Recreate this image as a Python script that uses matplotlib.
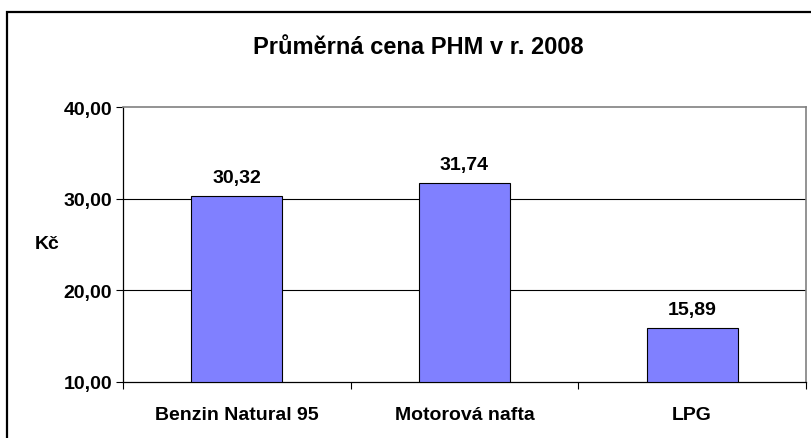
import matplotlib
matplotlib.use("Agg")
import matplotlib.pyplot as plt
from matplotlib.patches import Rectangle

categories = ["Benzin Natural 95", "Motorová nafta", "LPG"]
values = [30.32, 31.74, 15.89]
yticks = [10, 20, 30, 40]
title = "Průměrná cena PHM v r. 2008"
ylabel = "Kč"

plt.rcParams['font.family'] = ['Liberation Sans', 'DejaVu Sans']
W, H = 812, 439
fig = plt.figure(figsize=(W / 100, H / 100), dpi=100)

# outer frame
fig.patches.append(Rectangle((7 / W, -20 / H), (W + 20) / W, (H - 13 + 20) / H,
                             transform=fig.transFigure, fill=False,
                             edgecolor='black', linewidth=1.6, clip_on=True))

L, R, T, B = 123, 806, 108, 383
ax = fig.add_axes([L / W, 1 - B / H, (R - L) / W, (B - T) / H])

FS = 14
x = list(range(len(categories)))
ax.bar(x, [v - 10 for v in values], bottom=10, width=0.4, color='#8080FF',
       edgecolor='black', linewidth=0.8, zorder=3)
for xi, v in zip(x, values):
    ax.annotate(f"{v:.2f}".replace('.', ','), (xi, v), xytext=(0, 7),
                textcoords='offset points', ha='center', va='bottom',
                fontsize=FS, fontweight='bold')

ax.set_xlim(-0.5, len(categories) - 0.5)
ax.set_ylim(10, 40)
ax.set_yticks(yticks)
ax.set_yticklabels([f"{t:.2f}".replace('.', ',') for t in yticks],
                   fontsize=FS, fontweight='bold')
ax.set_xticks(x)
ax.set_xticklabels(categories, fontsize=FS, fontweight='bold')
ax.set_xticks([-0.5, 0.5, 1.5, 2.5], minor=True)
ax.tick_params(axis='x', which='major', length=0, pad=17)
ax.tick_params(axis='x', which='minor', length=5, width=0.8, direction='out')
ax.tick_params(axis='y', length=5, width=0.8, direction='out', pad=3)

for t in [20, 30]:
    ax.axhline(t, color='black', linewidth=0.8, zorder=1)

for s in ['left', 'bottom']:
    ax.spines[s].set_color('black')
    ax.spines[s].set_linewidth(0.9)
for s in ['top', 'right']:
    ax.spines[s].set_color('#808080')
    ax.spines[s].set_linewidth(1.2)

fig.text(47 / W, 1 - 245 / H, ylabel, fontsize=FS, fontweight='bold',
         ha='center', va='center')
fig.text(418 / W, 1 - 47 / H, title, fontsize=17, fontweight='bold',
         ha='center', va='center')

fig.savefig("out.png", dpi=100)
